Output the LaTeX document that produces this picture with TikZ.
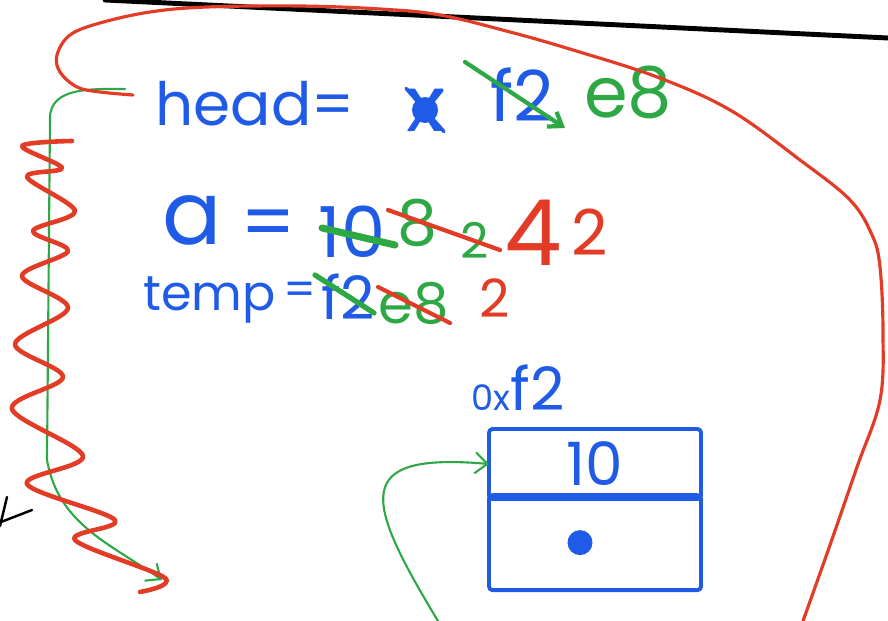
\documentclass[tikz,border=0pt]{standalone}
\usepackage{fontspec}
\setmainfont{Poppins}
\usetikzlibrary{arrows.meta,positioning,calc}
\definecolor{pen}{HTML}{1F5BE6}
\definecolor{ink}{HTML}{2DA844}
\definecolor{marker}{HTML}{E23B26}

\tikzset{
  hand/.style={inner sep=0pt, font=\fontsize{#1}{#1}\selectfont},
  strike/.style={line width=2.4pt},
  ptrline/.style={ink, line width=1.2pt, -{Straight Barb[length=7pt,width=12pt]}},
  cell/.style={draw=pen, line width=2.2pt, rounded corners=2pt, minimum width=4.24cm, inner sep=0pt, outer sep=0pt}
}

\begin{document}
\begin{tikzpicture}[x=0.02cm, y=-0.02cm, line cap=round, line join=round]
  \useasboundingbox (0,0) rectangle (888,621);
  % edge of the page
  \draw[black, line width=2.8pt] (105,0) -- (888,38);
  \draw[black, line width=1.4pt] (32,510) -- (1,522) (7,497) -- (0,526);

  % head row
  \node[hand=34, pen, anchor=base west] (head) at (155,126) {head=};
  \node[hand=44, pen] (old) at (425,110) {x};
  \draw[pen, line width=2pt] (old.north west) -- (old.south east) (410,130) -- (442,90);
  \fill[pen] (old.center) circle (0.26cm);
  \node[hand=40, pen] (f2a) at (522,95) {f2};
  \draw[ink, strike, -{Straight Barb[length=7pt,width=10pt]}] (465,62) -- (565,128);
  \node[hand=40, ink] (e8a) at (628,92) {e8};

  % a row
  \node[hand=50, pen] (a) at (192,220) {a};
  \node[hand=44, pen] (eq) at (268,230) {=};
  \node[hand=40, pen] (ten) at (352,232) {10};
  \draw[ink, strike, line width=4pt] (322,228) -- (395,245);
  \node[hand=36, ink] (eight) at (417,223) {8};
  \node[hand=28, ink] (two) at (475,240) {2};
  \draw[marker, strike] (388,210) -- (500,250);
  \node[hand=52, marker] (four) at (533,233) {4};
  \node[hand=36, marker] (twored) at (590,232) {2};

  % temp row
  \node[hand=28, pen, anchor=base west] (temp) at (143,310) {temp};
  \node[hand=26, pen] (eqt) at (300,294) {=};
  \node[hand=34, pen] (f2b) at (348,297) {f2};
  \draw[ink, strike, line width=3pt] (315,275) -- (374,313);
  \node[hand=32, ink] (e8b) at (414,303) {e8};
  \draw[marker, strike] (378,287) -- (450,323);
  \node[hand=30, marker] (twob) at (495,298) {2};

  % the node at 0xf2
  \node[hand=34, pen] (addr) at (518,388) {{\fontsize{20}{20}\selectfont 0x}f2};
  \node[cell, minimum height=1.4cm, hand=34, pen] (val) at (595,464) {10};
  \node[cell, minimum height=1.9cm, below=-2.2pt of val] (next) {};
  \fill[pen] ([xshift=-0.3cm]next.center) circle (0.25cm);

  % pointers
  \coordinate (hd) at (125,89);
  \coordinate (tip) at (162,580);
  \draw[ptrline] (hd) to[out=180,in=90] (50,118) -- (47,460) to[out=-80,in=145] (tip);
  \coordinate (src) at (438,621);
  \draw[ptrline] (src) .. controls (365,500) and (350,452) .. (val.west);

  % the wiggle and the loop
  \draw[marker, line width=2.6pt] plot[smooth, tension=0.55] coordinates {(72,141) (22,146) (62,168) (27,177) (75,211) (33,231) (68,251) (22,276) (68,308) (15,344) (63,377) (12,409) (83,456) (27,484) (115,520) (75,540) (165,578) (140,592)};
  \draw[marker, line width=1.8pt] plot[smooth, tension=0.6] coordinates {(133,95) (100,92) (77,87) (60,72) (57,55) (70,35) (100,23) (150,12) (207,7) (300,6) (380,9) (440,15) (510,32) (573,50) (657,77) (730,110) (800,160) (850,200) (872,235) (880,267) (883,333) (880,400) (857,467) (830,545) (803,621)};
\end{tikzpicture}
\end{document}
